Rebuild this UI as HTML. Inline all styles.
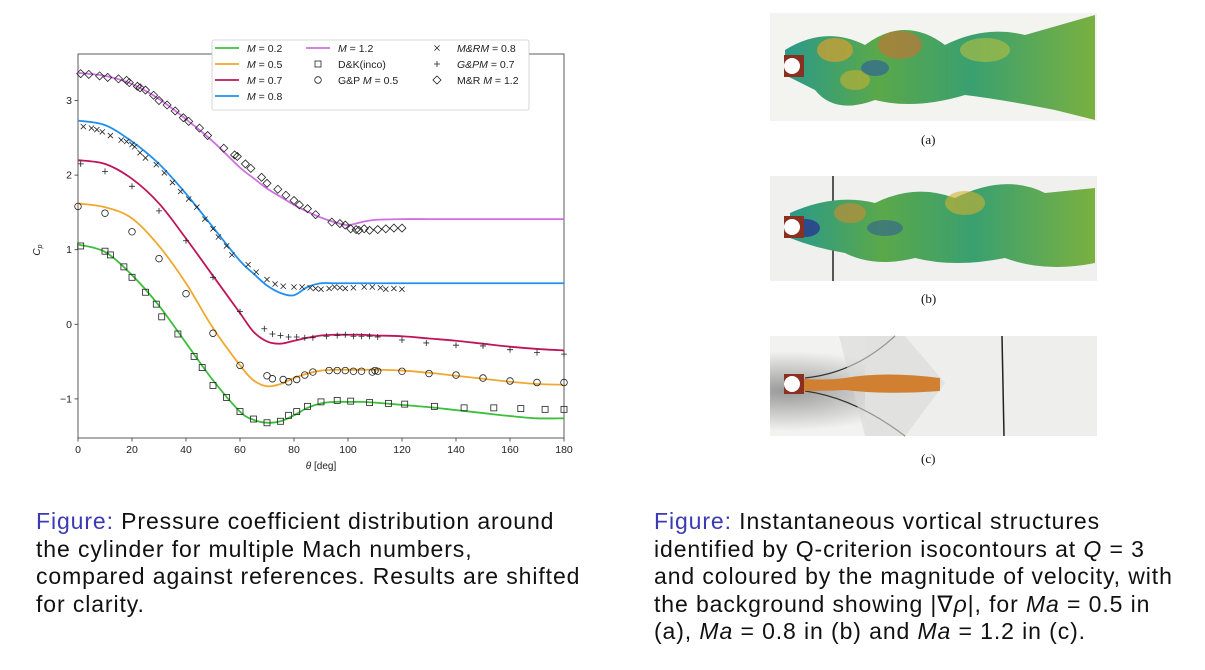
<!DOCTYPE html>
<html><head><meta charset="utf-8"><style>
body{margin:0;width:1205px;height:670px;background:#fff;position:relative;overflow:hidden;font-family:"Liberation Sans",sans-serif}
.cap{position:absolute;font-size:23px;letter-spacing:0.9px;line-height:27.5px;color:#111;white-space:nowrap}
.cap .f{color:#3a3ab5}
.sub{position:absolute;font-family:"Liberation Serif",serif;font-size:13px;color:#111}
</style></head><body>
<svg id="chart" width="600" height="490" style="position:absolute;left:0;top:0" font-family="Liberation Sans, sans-serif"></svg>

<svg width="340" height="440" style="position:absolute;top:10px;left:765px">
<defs>
<linearGradient id="wk" x1="0" x2="1"><stop offset="0" stop-color="#2a9a8a"/><stop offset="0.3" stop-color="#5aa84a"/><stop offset="0.6" stop-color="#3aa070"/><stop offset="1" stop-color="#7ab040"/></linearGradient>
<radialGradient id="sh" cx="0.05" cy="0.55" r="0.4"><stop offset="0" stop-color="#999"/><stop offset="1" stop-color="#f2f2f0"/></radialGradient>
</defs>
<g>
<rect x="5" y="3" width="327" height="108" fill="#f3f3f0"/>
<path d="M20 40 Q60 15 100 35 Q140 5 180 35 Q220 15 260 25 L330 5 L330 110 L290 100 Q240 90 200 85 Q150 100 110 90 Q70 105 50 80 Q30 70 20 65Z" fill="url(#wk)"/>
<ellipse cx="70" cy="40" rx="18" ry="12" fill="#d8a030" opacity="0.7"/><ellipse cx="135" cy="35" rx="22" ry="14" fill="#d07030" opacity="0.6"/><ellipse cx="90" cy="70" rx="15" ry="10" fill="#c8b030" opacity="0.6"/><ellipse cx="220" cy="40" rx="25" ry="12" fill="#b8c040" opacity="0.6"/><ellipse cx="110" cy="58" rx="14" ry="8" fill="#2a5aa0" opacity="0.6"/>
<rect x="19" y="45" width="20" height="22" fill="#8a3020"/><circle cx="27" cy="56" r="8" fill="#fff"/>
</g>
<g transform="translate(0,163)">
<rect x="5" y="3" width="327" height="105" fill="#f0f0ee"/>
<line x1="68" y1="3" x2="68" y2="108" stroke="#222" stroke-width="1.5"/>
<path d="M25 40 Q70 20 110 30 Q150 10 190 25 Q240 0 280 20 L330 15 L330 90 Q280 100 240 85 Q190 95 150 85 Q110 95 80 80 Q50 75 25 65Z" fill="url(#wk)"/>
<ellipse cx="40" cy="55" rx="15" ry="9" fill="#283890" opacity="0.8"/><ellipse cx="85" cy="40" rx="16" ry="10" fill="#d08a30" opacity="0.6"/><ellipse cx="200" cy="30" rx="20" ry="12" fill="#d0b030" opacity="0.6"/><ellipse cx="120" cy="55" rx="18" ry="8" fill="#2a50a0" opacity="0.5"/>
<rect x="19" y="43" width="20" height="22" fill="#8a3020"/><circle cx="27" cy="54" r="8" fill="#fff"/>
</g>
<g transform="translate(0,323)">
<rect x="5" y="3" width="327" height="100" fill="url(#sh)"/>
<rect x="100" y="3" width="232" height="100" fill="#eeeeec"/>
<path d="M40 45 Q90 40 130 3 M40 58 Q90 65 140 103" stroke="#333" stroke-width="1.2" fill="none"/>
<path d="M74 3 L140 3 L180 50 L140 103 L100 103Z" fill="#d8d8d8" opacity="0.6"/>
<line x1="237" y1="3" x2="239" y2="103" stroke="#222" stroke-width="1.5"/>
<path d="M25 45 Q60 48 80 45 Q120 38 175 45 L175 58 Q120 62 80 57 Q60 58 25 58Z" fill="#d08030"/>
<rect x="19" y="41" width="20" height="20" fill="#8a3020"/><circle cx="27" cy="51" r="8" fill="#fff"/>
</g>
</svg>
<div class="sub" style="left:921px;top:132px">(a)</div>
<div class="sub" style="left:921px;top:291px">(b)</div>
<div class="sub" style="left:921px;top:451px">(c)</div>

<div class="cap" style="left:36px;top:508px"><span class="f">Figure:</span> Pressure coefficient distribution around<br>the cylinder for multiple Mach numbers,<br>compared against references. Results are shifted<br>for clarity.</div>
<div class="cap" style="left:654px;top:508px"><span class="f">Figure:</span> Instantaneous vortical structures<br>identified by Q-criterion isocontours at <i>Q</i> = 3<br>and coloured by the magnitude of velocity, with<br>the background showing |∇<i>ρ</i>|, for <i>Ma</i> = 0.5 in<br>(a), <i>Ma</i> = 0.8 in (b) and <i>Ma</i> = 1.2 in (c).</div>

<script>
const xTicks=[0,20,40,60,80,100,120,140,160,180];
const yTicks=[-1,0,1,2,3];
const curveTheta=[0,10,20,30,40,50,60,65,70,75,80,85,90,95,100,105,110,120,130,140,150,160,170,180];
const m02=[1.07,0.97,0.66,0.25,-0.25,-0.75,-1.17,-1.28,-1.32,-1.30,-1.22,-1.12,-1.06,-1.04,-1.04,-1.04,-1.05,-1.08,-1.11,-1.15,-1.19,-1.23,-1.26,-1.26];
const m05=[1.62,1.57,1.42,1.05,0.55,-0.05,-0.55,-0.75,-0.83,-0.80,-0.72,-0.66,-0.62,-0.61,-0.61,-0.61,-0.61,-0.62,-0.65,-0.69,-0.73,-0.77,-0.80,-0.81];
const m07=[2.2,2.15,1.95,1.62,1.15,0.65,0.15,-0.1,-0.23,-0.26,-0.22,-0.18,-0.15,-0.14,-0.14,-0.14,-0.15,-0.16,-0.19,-0.22,-0.26,-0.30,-0.33,-0.35];
const m08=[2.73,2.67,2.45,2.15,1.75,1.3,0.85,0.68,0.52,0.42,0.39,0.50,0.55,0.55,0.55,0.55,0.55,0.55,0.55,0.55,0.55,0.55,0.55,0.55];
const m12=[3.37,3.33,3.22,3.02,2.75,2.45,2.1,1.96,1.82,1.71,1.6,1.51,1.43,1.37,1.33,1.37,1.40,1.41,1.41,1.41,1.41,1.41,1.41,1.41];
const dkTheta=[1,10,12,17,20,25,29,31,37,43,46,50,55,60,65,70,75,78,81,85,90,96,101,108,115,121,132,143,154,164,173,180];
const dkCp=[1.05,0.98,0.93,0.77,0.63,0.43,0.27,0.10,-0.13,-0.43,-0.58,-0.82,-0.98,-1.17,-1.27,-1.32,-1.30,-1.22,-1.17,-1.10,-1.04,-1.02,-1.03,-1.05,-1.06,-1.07,-1.10,-1.12,-1.12,-1.13,-1.14,-1.14];
const gp5Theta=[0,10,20,30,40,50,60,70,72,76,78,81,84,87,93,96,99,102,105,109,110,111,120,130,140,150,160,170,180];
const gp5Cp=[1.58,1.49,1.24,0.88,0.41,-0.12,-0.55,-0.69,-0.73,-0.74,-0.77,-0.74,-0.68,-0.64,-0.62,-0.62,-0.62,-0.63,-0.63,-0.64,-0.62,-0.63,-0.63,-0.66,-0.68,-0.72,-0.76,-0.78,-0.78];
const gp7Theta=[1,10,20,30,40,50,60,69,72,75,78,81,84,87,92,96,99,102,105,108,111,120,129,140,150,160,170,180];
const gp7Cp=[2.15,2.05,1.85,1.52,1.12,0.63,0.17,-0.06,-0.13,-0.15,-0.17,-0.17,-0.18,-0.18,-0.16,-0.15,-0.14,-0.16,-0.16,-0.16,-0.17,-0.21,-0.25,-0.28,-0.29,-0.34,-0.38,-0.40];
const mr8Theta=[2,5,7,9,12,16,18,20,21,23,25,29,32,35,38,41,44,47,50,52,55,57,63,66,70,73,76,80,83,86,88,90,93,95,97,99,102,106,109,112,114,117,120];
const mr8Cp=[2.65,2.63,2.61,2.58,2.53,2.47,2.45,2.41,2.38,2.30,2.23,2.14,2.03,1.90,1.78,1.68,1.57,1.41,1.28,1.17,1.05,0.93,0.80,0.70,0.60,0.54,0.51,0.50,0.50,0.49,0.48,0.47,0.48,0.50,0.49,0.48,0.49,0.50,0.50,0.49,0.47,0.48,0.47];
const mr12Theta=[1,4,8,11,15,18,19,22,23,25,28,30,33,36,39,41,45,48,54,58,59,62,64,68,70,74,77,80,82,85,88,94,97,99,101,103,104,106,108,111,114,117,120];
const mr12Cp=[3.36,3.35,3.33,3.31,3.29,3.27,3.24,3.19,3.17,3.14,3.07,3.00,2.94,2.86,2.77,2.72,2.63,2.53,2.36,2.27,2.25,2.15,2.09,1.97,1.89,1.81,1.73,1.66,1.60,1.55,1.47,1.37,1.35,1.33,1.28,1.27,1.26,1.28,1.26,1.27,1.28,1.29,1.29];

const X0=78,X1=564,Y0=54,Y1=438;
const xs=t=>X0+(X1-X0)*t/180;
const ys=v=>324.3-74.6*v;
const svg=document.getElementById('chart');
const NS='http://www.w3.org/2000/svg';
function mk(tag,attrs,parent){const e=document.createElementNS(NS,tag);for(const k in attrs)e.setAttribute(k,attrs[k]);(parent||svg).appendChild(e);return e;}

const frame=mk('rect',{x:X0,y:Y0,width:X1-X0,height:Y1-Y0,fill:'none',stroke:'#333','stroke-width':0.8});


xTicks.forEach(t=>{
  mk('line',{x1:xs(t),x2:xs(t),y1:Y1,y2:Y1+3.5,stroke:'#333','stroke-width':0.8});
  const tx=mk('text',{x:xs(t),y:Y1+15,'font-size':10.5,'text-anchor':'middle',fill:'#222'});tx.textContent=t;
  
  
});
yTicks.forEach(v=>{
  mk('line',{x1:X0-3.5,x2:X0,y1:ys(v),y2:ys(v),stroke:'#333','stroke-width':0.8});
  const tx=mk('text',{x:X0-6,y:ys(v)+3.5,'font-size':10.5,'text-anchor':'end',fill:'#222'});tx.textContent=v<0?'\u22121':v;
  
  
});
const xl=mk('text',{x:321,y:469,'font-size':10,'text-anchor':'middle',fill:'#222'});xl.innerHTML='<tspan font-style="italic">θ</tspan> [deg]';


const yl=mk('text',{x:0,y:0,'font-size':10,'text-anchor':'middle',fill:'#222',transform:'translate(40,250) rotate(-90)'});yl.innerHTML='<tspan font-style="italic">C</tspan><tspan font-size="7" dy="2" font-style="italic">p</tspan>';



const series=[[m02,'#3cbf3c','m02'],[m05,'#f0a830','m05'],[m07,'#c0145a','m07'],[m08,'#1e90f0','m08'],[m12,'#d070e0','m12']];
function smooth(pts){let d='M'+pts[0][0]+' '+pts[0][1];for(let i=0;i<pts.length-1;i++){const p0=pts[i-1]||pts[i],p1=pts[i],p2=pts[i+1],p3=pts[i+2]||p2;d+=` C${p1[0]+(p2[0]-p0[0])/6} ${p1[1]+(p2[1]-p0[1])/6} ${p2[0]-(p3[0]-p1[0])/6} ${p2[1]-(p3[1]-p1[1])/6} ${p2[0]} ${p2[1]}`;}return d;}
series.forEach(([vals,col,nm])=>{
  const p=mk('path',{d:smooth(curveTheta.map((t,i)=>[xs(t),ys(vals[i])])),fill:'none',stroke:col,'stroke-width':1.8});
  
  
});
function marker(type,x,y,g){
  const s={fill:'none',stroke:'#222','stroke-width':0.8};
  if(type==='sq')mk('rect',Object.assign({x:x-3,y:y-3,width:6,height:6},s),g);
  else if(type==='ci')mk('circle',Object.assign({cx:x,cy:y,r:3.3},s),g);
  else if(type==='pl')mk('path',Object.assign({d:`M${x-3} ${y}H${x+3}M${x} ${y-3}V${y+3}`},s),g);
  else if(type==='x')mk('path',Object.assign({d:`M${x-2.6} ${y-2.6}L${x+2.6} ${y+2.6}M${x-2.6} ${y+2.6}L${x+2.6} ${y-2.6}`},s),g);
  else mk('path',Object.assign({d:`M${x} ${y-4}L${x+4} ${y}L${x} ${y+4}L${x-4} ${y}Z`},s),g);
}
[[dkTheta,dkCp,'sq','dk-inco'],[gp5Theta,gp5Cp,'ci','gp-m05'],[gp7Theta,gp7Cp,'pl','gp-m07'],[mr8Theta,mr8Cp,'x','mr-m08'],[mr12Theta,mr12Cp,'di','mr-m12']].forEach(([th,cp,t,nm])=>{
  const g=mk('g',{});
  
  
  th.forEach((v,i)=>marker(t,xs(v),ys(cp[i]),g));
});
const lg=mk('g',{});


mk('rect',{x:212,y:40,width:317,height:70,fill:'#fff',stroke:'#ccc','stroke-width':0.8,rx:2},lg);
const entries=[[215,48,'line','#3cbf3c','<tspan font-style="italic">M</tspan> = 0.2'],[215,64,'line','#f0a830','<tspan font-style="italic">M</tspan> = 0.5'],[215,80,'line','#c0145a','<tspan font-style="italic">M</tspan> = 0.7'],[215,96,'line','#1e90f0','<tspan font-style="italic">M</tspan> = 0.8'],
[306,48,'line','#d070e0','<tspan font-style="italic">M</tspan> = 1.2'],[306,64,'sq','','D&amp;K(inco)'],[306,80,'ci','','G&amp;P <tspan font-style="italic">M</tspan> = 0.5'],
[425,48,'x','','<tspan font-style="italic">M&amp;RM</tspan> = 0.8'],[425,64,'pl','','<tspan font-style="italic">G&amp;PM</tspan> = 0.7'],[425,80,'di','','M&amp;R <tspan font-style="italic">M</tspan> = 1.2']];
entries.forEach(([x,y,t,c,txt])=>{
  const g=mk('g',{},lg);
  
  
  if(t==='line')mk('line',{x1:x,x2:x+24,y1:y,y2:y,stroke:c,'stroke-width':1.8},g);
  else marker(t,x+12,y,g);
  const tx=mk('text',{x:x+32,y:y+4,'font-size':10.5,fill:'#222'},g);tx.innerHTML=txt;
});
</script>
</body></html>
